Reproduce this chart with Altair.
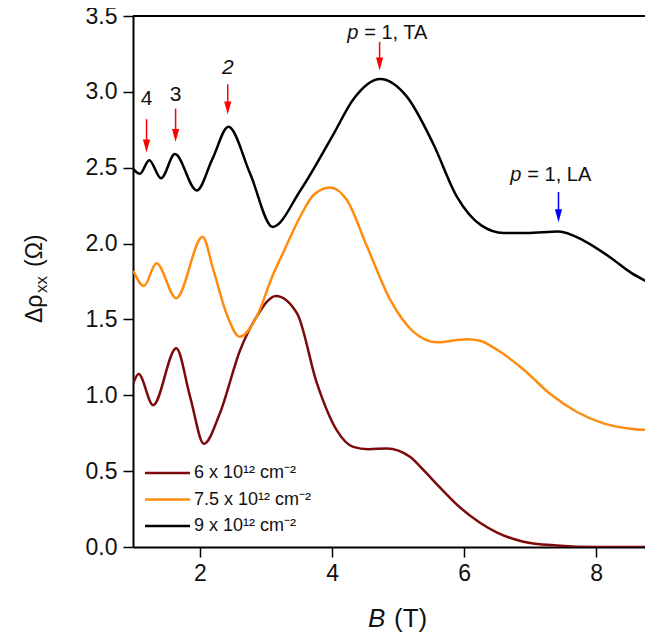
import altair as alt
import pandas as pd

# ---- data ----
labels = ["6 x 10¹² cm⁻²", "7.5 x 10¹² cm⁻²", "9 x 10¹² cm⁻²"]
colors = ["#7d0a0a", "#ff8c0f", "#000000"]

B_6 = [0.99, 1.07, 1.29, 1.64, 1.85, 2.06, 2.30, 2.61, 2.86, 3.15, 3.47, 3.77, 4.07, 4.32,
       4.55, 4.83, 5.18, 5.40, 5.64, 5.94, 6.24, 6.50, 6.90, 7.40, 8.00, 8.86]
R_6 = [1.08, 1.14, 0.935, 1.31, 0.99, 0.68, 0.88, 1.30, 1.52, 1.655, 1.54, 1.08, 0.77, 0.66,
       0.645, 0.65, 0.595, 0.50, 0.39, 0.26, 0.16, 0.095, 0.035, 0.01, 0.0, 0.0]

B_75 = [0.99, 1.15, 1.34, 1.64, 2.04, 2.20, 2.40, 2.60, 2.86, 3.11, 3.26, 3.52, 3.72, 3.97,
        4.22, 4.53, 4.88, 5.23, 5.59, 6.04, 6.24, 6.50, 6.90, 7.30, 7.71, 8.11, 8.52, 8.86]
R_75 = [1.82, 1.72, 1.87, 1.64, 2.045, 1.83, 1.54, 1.386, 1.52, 1.80, 1.94, 2.18, 2.32, 2.37,
        2.29, 1.98, 1.63, 1.42, 1.35, 1.37, 1.36, 1.30, 1.17, 1.01, 0.89, 0.815, 0.78, 0.77]

B_9 = [0.99, 1.09, 1.23, 1.41, 1.62, 1.95, 2.19, 2.43, 2.76, 3.10, 3.52, 4.02, 4.32, 4.73,
       5.13, 5.53, 5.89, 6.26, 6.60, 6.95, 7.43, 7.81, 8.21, 8.52, 8.86]
R_9 = [2.49, 2.46, 2.55, 2.43, 2.59, 2.35, 2.56, 2.77, 2.46, 2.11, 2.35, 2.72, 2.95, 3.085,
       2.97, 2.66, 2.31, 2.12, 2.07, 2.07, 2.08, 2.02, 1.91, 1.81, 1.73]

x_ticks = [2, 4, 6, 8]
y_ticks = [0.0, 0.5, 1.0, 1.5, 2.0, 2.5, 3.0, 3.5]

# arrows (B position, shaft top, tip)
arrow_B = [1.19, 1.63, 2.42, 4.72, 7.43]
arrow_top = [2.82, 2.89, 3.05, 3.33, 2.34]
arrow_tip = [2.60, 2.67, 2.85, 3.14, 2.14]
arrow_col = ["red", "red", "red", "red", "blue"]

num_text = ["4", "3", "2"]
num_B = [1.19, 1.63, 2.42]
num_R = [2.95, 2.98, 3.16]
num_italic = [False, False, True]

p_text = ["= 1, TA", "= 1, LA"]
p_B = [4.23, 6.70]
p_R = [3.39, 2.45]

FONT = "Liberation Sans"
TXT = "#111111"

rows = []
for lab, bs, rs in zip(labels, [B_6, B_75, B_9], [R_6, R_75, R_9]):
    for b, r in zip(bs, rs):
        rows.append({"B": b, "rho": r, "series": lab})
df = pd.DataFrame(rows)

xscale = alt.Scale(domain=[0.985, 8.74], nice=False, zero=False)
yscale = alt.Scale(domain=[0, 3.5], nice=False, zero=False)

axis_common = dict(grid=False, domainColor="black", domainWidth=2, tickColor="black",
                   tickWidth=1.5, tickSize=10, labelFont=FONT, labelFontSize=23,
                   labelColor=TXT, title=None)

lines = alt.Chart(df).mark_line(strokeWidth=2.5, interpolate="monotone", clip=True).encode(
    x=alt.X("B:Q", scale=xscale,
            axis=alt.Axis(values=x_ticks, format="d", labelPadding=5, **axis_common)),
    y=alt.Y("rho:Q", scale=yscale,
            axis=alt.Axis(values=y_ticks, format=".1f", labelPadding=6, **axis_common)),
    color=alt.Color("series:N", scale=alt.Scale(domain=labels, range=colors),
                    legend=alt.Legend(orient="none", legendX=3, legendY=448, title=None,
                                      symbolType="M0,0L6,0", symbolSize=225,
                                      symbolStrokeWidth=2.5, labelOffset=40,
                                      labelFont=FONT, labelFontSize=18, labelColor=TXT,
                                      rowPadding=8.5, padding=0)),
)

top_frame = alt.Chart(pd.DataFrame({"v": [3.5]})).mark_rule(color="black", strokeWidth=2).encode(
    y=alt.Y("v:Q", scale=yscale))

arr = pd.DataFrame({"B": arrow_B, "top": arrow_top, "tip": arrow_tip, "col": arrow_col})
arr["headc"] = arr["tip"] + 0.043

shafts = alt.Chart(arr).mark_rule(strokeWidth=1.5).encode(
    x=alt.X("B:Q", scale=xscale), y=alt.Y("top:Q", scale=yscale), y2="headc:Q",
    color=alt.Color("col:N", scale=None))
heads = alt.Chart(arr).mark_point(shape="M-0.55,-1L0.55,-1L0,1Z", size=169, filled=True,
                                  opacity=1).encode(
    x=alt.X("B:Q", scale=xscale), y=alt.Y("headc:Q", scale=yscale),
    color=alt.Color("col:N", scale=None))

nums = pd.DataFrame({"B": num_B, "rho": num_R, "t": num_text, "it": num_italic})
num_plain = alt.Chart(nums[~nums["it"]]).mark_text(font=FONT, fontSize=21, color=TXT,
                                                  baseline="middle").encode(
    x=alt.X("B:Q", scale=xscale), y=alt.Y("rho:Q", scale=yscale), text="t:N")
num_ital = alt.Chart(nums[nums["it"]]).mark_text(font=FONT, fontSize=21, color=TXT,
                                                baseline="middle", fontStyle="italic").encode(
    x=alt.X("B:Q", scale=xscale), y=alt.Y("rho:Q", scale=yscale), text="t:N")

pdf = pd.DataFrame({"B": p_B, "rho": p_R, "t": p_text, "p": ["p", "p"]})
p_it = alt.Chart(pdf).mark_text(font=FONT, fontSize=20, color=TXT, align="left",
                                baseline="middle", fontStyle="italic").encode(
    x=alt.X("B:Q", scale=xscale), y=alt.Y("rho:Q", scale=yscale), text="p:N")
p_rest = alt.Chart(pdf).mark_text(font=FONT, fontSize=20, color=TXT, align="left",
                                  baseline="middle", dx=17).encode(
    x=alt.X("B:Q", scale=xscale), y=alt.Y("rho:Q", scale=yscale), text="t:N")

one = pd.DataFrame({"a": [0]})
# x-axis title: italic B and (T)
xtitle_B = alt.Chart(one).mark_text(font=FONT, fontSize=26, color=TXT, align="left",
                                    baseline="middle", fontStyle="italic", text="B").encode(
    x=alt.value(235), y=alt.value(603))
xtitle_T = alt.Chart(one).mark_text(font=FONT, fontSize=26, color=TXT, align="left",
                                    baseline="middle", text="(T)").encode(
    x=alt.value(261), y=alt.value(603))

# y-axis title: Δρ with subscript xx, then (Ω), rotated
ytitle_main = alt.Chart(one).mark_text(font=FONT, fontSize=23, color=TXT, align="left",
                                       baseline="alphabetic", angle=270, text="Δρ").encode(
    x=alt.value(-91), y=alt.value(307))
ytitle_sub = alt.Chart(one).mark_text(font=FONT, fontSize=17, color=TXT, align="left",
                                      baseline="alphabetic", angle=270, text="xx").encode(
    x=alt.value(-86), y=alt.value(277))
ytitle_unit = alt.Chart(one).mark_text(font=FONT, fontSize=23, color=TXT, align="left",
                                       baseline="alphabetic", angle=270, text="(Ω)").encode(
    x=alt.value(-91), y=alt.value(251))

chart = alt.layer(top_frame, lines, shafts, heads, num_plain, num_ital, p_it, p_rest,
                  xtitle_B, xtitle_T, ytitle_main, ytitle_sub, ytitle_unit).properties(
    width=512, height=531,
    autosize=alt.AutoSizeParams(type="none"),
    padding={"left": 125, "top": 8, "right": 0, "bottom": 88},
    background="white",
).configure_view(stroke=None)

chart.save("out.html", embed_options={"renderer": "svg", "actions": False})
